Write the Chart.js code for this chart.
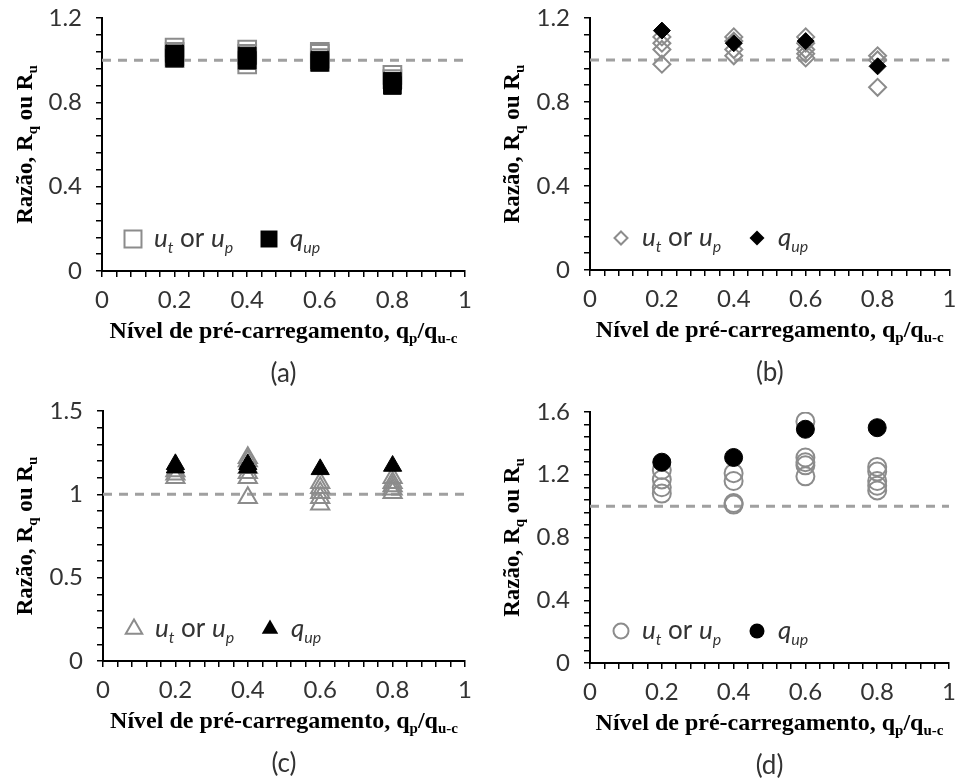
<!DOCTYPE html>
<html><head><meta charset="utf-8">
<script src="https://cdn.jsdelivr.net/npm/chart.js@4.4.1/dist/chart.umd.min.js"></script>
<style>
html,body{margin:0;padding:0;background:#fff}
body{width:960px;height:780px;position:relative;overflow:hidden}
.p{position:absolute;width:480px;height:390px}
canvas{display:block}
</style></head><body>
<div class="p" style="left:0;top:0"><canvas id="ca" width="480" height="390"></canvas></div>
<div class="p" style="left:480px;top:0"><canvas id="cb" width="480" height="390"></canvas></div>
<div class="p" style="left:0;top:390px"><canvas id="cc" width="480" height="390"></canvas></div>
<div class="p" style="left:480px;top:390px"><canvas id="cd" width="480" height="390"></canvas></div>
<script>
// ---------- data ----------
const xTickLabels = [0, 0.2, 0.4, 0.6, 0.8, 1];
const yTicksA = [0, 0.4, 0.8, 1.2];
const yTicksB = [0, 0.4, 0.8, 1.2];
const yTicksC = [0, 0.5, 1, 1.5];
const yTicksD = [0, 0.4, 0.8, 1.2, 1.6];
const refX = [0, 1];
const refY = [1, 1];

// (a) squares
const aOpenX = [0.2,0.2,0.2,0.2, 0.4,0.4,0.4,0.4, 0.6,0.6,0.6,0.6, 0.8,0.8];
const aOpenY = [1.06,1.04,1.02,1.01, 1.05,1.03,1.00,0.98, 1.04,1.03,1.01,0.99, 0.93,0.91];
const aFillX = [0.2,0.2, 0.4,0.4, 0.6,0.6, 0.8,0.8];
const aFillY = [1.03,1.01, 1.02,1.00, 1.00,0.99, 0.90,0.88];

// (b) diamonds
const bOpenX = [0.2,0.2,0.2,0.2, 0.4,0.4,0.4,0.4, 0.6,0.6,0.6,0.6,0.6, 0.8,0.8,0.8];
const bOpenY = [1.11,1.08,1.05,0.98, 1.11,1.09,1.05,1.02, 1.11,1.08,1.05,1.03,1.01, 1.02,1.00,0.87];
const bFillX = [0.2, 0.4, 0.6, 0.8];
const bFillY = [1.14, 1.08, 1.09, 0.97];

// (c) triangles
const cOpenX = [0.2,0.2,0.2, 0.4,0.4,0.4,0.4,0.4,0.4, 0.6,0.6,0.6,0.6,0.6, 0.8,0.8,0.8,0.8,0.8];
const cOpenY = [1.14,1.12,1.10, 1.22,1.20,1.16,1.13,1.10,0.98, 1.07,1.04,1.01,0.98,0.94, 1.10,1.07,1.05,1.03,1.01];
const cFillX = [0.2,0.2, 0.4,0.4, 0.6, 0.8];
const cFillY = [1.18,1.16, 1.18,1.16, 1.15, 1.17];

// (d) circles
const dOpenX = [0.2,0.2,0.2,0.2, 0.4,0.4,0.4,0.4, 0.6,0.6,0.6,0.6,0.6, 0.8,0.8,0.8,0.8,0.8];
const dOpenY = [1.23,1.17,1.12,1.08, 1.21,1.16,1.02,1.01, 1.54,1.31,1.28,1.26,1.19, 1.25,1.22,1.16,1.13,1.10];
const dFillX = [0.2, 0.4, 0.6, 0.8];
const dFillY = [1.28, 1.31, 1.49, 1.50];

// ---------- helpers ----------
const zip = (xs, ys) => xs.map((x, i) => ({x: x, y: ys[i]}));
const isMajor = (v, list) => list.find(m => Math.abs(m - v) < 1e-6);
const fmt = v => String(Math.round(v * 10) / 10);

const SERIF = "'Liberation Serif','Times New Roman',serif";
const SANS = "Lato,'Open Sans',sans-serif";
const TXT = '#333333';

function rich(ctx, segs, x, y, align) {
  let w = 0;
  segs.forEach(s => { ctx.font = s.f; s.w = ctx.measureText(s.t).width; w += s.w; });
  let cx = align === 'center' ? x - w / 2 : x;
  ctx.textAlign = 'left';
  ctx.textBaseline = 'alphabetic';
  segs.forEach(s => { ctx.font = s.f; ctx.fillText(s.t, cx, y + (s.dy || 0)); cx += s.w; });
}

function marker(ctx, style, x, y, r, filled) {
  ctx.save();
  ctx.beginPath();
  if (style === 'rect') {
    const h = r * Math.SQRT1_2;
    ctx.rect(x - h, y - h, 2 * h, 2 * h);
  } else if (style === 'rectRot') {
    ctx.moveTo(x, y - r); ctx.lineTo(x + r, y); ctx.lineTo(x, y + r); ctx.lineTo(x - r, y); ctx.closePath();
  } else if (style === 'triangle') {
    for (let k = 0; k < 3; k++) {
      const a = k * 2 * Math.PI / 3;
      const px = x + Math.sin(a) * r, py = y - Math.cos(a) * r;
      if (k === 0) ctx.moveTo(px, py); else ctx.lineTo(px, py);
    }
    ctx.closePath();
  } else {
    ctx.arc(x, y, r, 0, Math.PI * 2);
  }
  if (filled) { ctx.fillStyle = '#000'; ctx.fill(); }
  else { ctx.strokeStyle = '#8c8c8c'; ctx.lineWidth = 2; ctx.stroke(); }
  ctx.restore();
}

const textPlugin = {
  id: 'texts',
  afterDraw(chart, args, o) {
    const ctx = chart.ctx, a = chart.chartArea;
    ctx.save();
    ctx.fillStyle = '#000';
    // y title
    ctx.save();
    ctx.translate(o.yTitleX, (a.top + a.bottom) / 2);
    ctx.rotate(-Math.PI / 2);
    rich(ctx, [
      {t: 'Razão, R', f: 'bold 23px ' + SERIF},
      {t: 'q', f: 'bold 15px ' + SERIF, dy: 5},
      {t: ' ou R', f: 'bold 23px ' + SERIF},
      {t: 'u', f: 'bold 15px ' + SERIF, dy: 5}
    ], 0, 8, 'center');
    ctx.restore();
    // x title
    const cx = (a.left + a.right) / 2;
    rich(ctx, [
      {t: 'Nível de pré-carregamento, q', f: 'bold 24px ' + SERIF},
      {t: 'p', f: 'bold 15px ' + SERIF, dy: 5},
      {t: '/q', f: 'bold 24px ' + SERIF},
      {t: 'u-c', f: 'bold 15px ' + SERIF, dy: 5}
    ], cx, a.bottom + 67, 'center');
    // caption
    ctx.fillStyle = TXT;
    rich(ctx, [{t: o.caption, f: '26px ' + SANS}], cx, a.bottom + 111, 'center');
    // legend
    const ly = a.bottom - 32;
    marker(ctx, o.style, a.left + 31, ly, o.legR, false);
    marker(ctx, o.style, a.left + 167, ly, o.legR2, true);
    ctx.fillStyle = TXT;
    rich(ctx, [
      {t: 'u', f: 'italic 26px ' + SANS},
      {t: 't', f: 'italic 16px ' + SANS, dy: 6},
      {t: ' or ', f: '26px ' + SANS},
      {t: 'u', f: 'italic 26px ' + SANS},
      {t: 'p', f: 'italic 16px ' + SANS, dy: 6}
    ], a.left + 52, ly + 8, 'left');
    rich(ctx, [
      {t: 'q', f: 'italic 26px ' + SANS},
      {t: 'up', f: 'italic 16px ' + SANS, dy: 6}
    ], a.left + 188, ly + 8, 'left');
    ctx.restore();
  }
};

function makePanel(id, p) {
  const axisCommon = {
    type: 'linear',
    grid: {drawOnChartArea: false, drawTicks: true, tickLength: 6, color: '#000', lineWidth: 1.5},
    border: {display: true, color: '#000', width: 2}
  };
  new Chart(document.getElementById(id), {
    type: 'scatter',
    data: {datasets: [
      {label: 'q_up', data: zip(p.fx, p.fy), pointStyle: p.style, pointRadius: p.r,
       backgroundColor: '#000', borderColor: '#000', borderWidth: 1, order: 0},
      {label: 'u_t or u_p', data: zip(p.ox, p.oy), pointStyle: p.style, pointRadius: p.r,
       backgroundColor: 'rgba(255,255,255,0)', borderColor: '#8c8c8c', borderWidth: 2, order: 1},
      {label: 'ref', data: zip(refX, refY), showLine: true, pointRadius: 0,
       borderColor: '#a0a0a0', borderWidth: 3, borderDash: [9, 7], order: 2}
    ]},
    options: {
      responsive: false, animation: false, events: [],
      layout: {padding: {left: 0, right: 480 - p.right, top: p.top, bottom: 0}},
      plugins: {legend: {display: false}, tooltip: {enabled: false},
        texts: {yTitleX: p.yTitleX, caption: p.caption, style: p.style, legR: p.legR, legR2: p.legR2}},
      scales: {
        x: Object.assign({}, axisCommon, {
          min: 0, max: 1,
          afterFit: s => { s.height = 390 - p.bottom; s.paddingLeft = 0; s.paddingRight = 0; },
          ticks: {stepSize: 0.04, autoSkip: false, maxRotation: 0, color: TXT, padding: 9,
            font: {family: SANS, size: 24},
            callback: v => { const m = isMajor(v, xTickLabels); return m === undefined ? '' : fmt(m); }}
        }),
        y: Object.assign({}, axisCommon, {
          min: 0, max: p.ymax,
          afterFit: s => { s.width = p.left; s.paddingTop = 0; s.paddingBottom = 0; },
          ticks: {stepSize: p.ystep, autoSkip: false, color: TXT, padding: 14,
            font: {family: SANS, size: 24},
            callback: v => { const m = isMajor(v, p.yTicks); return m === undefined ? '' : fmt(m); }}
        })
      }
    },
    plugins: [textPlugin]
  });
}

makePanel('ca', {ox: aOpenX, oy: aOpenY, fx: aFillX, fy: aFillY, style: 'rect', r: 12.5, legR: 12, legR2: 12,
  yTicks: yTicksA, ymax: 1.2, ystep: 0.08, left: 102, right: 465, top: 18, bottom: 271, yTitleX: 24, caption: '(a)'});
makePanel('cb', {ox: bOpenX, oy: bOpenY, fx: bFillX, fy: bFillY, style: 'rectRot', r: 8.5, legR: 6.5, legR2: 7.5,
  yTicks: yTicksB, ymax: 1.2, ystep: 0.08, left: 110, right: 470, top: 18, bottom: 270, yTitleX: 31, caption: '(b)'});
makePanel('cc', {ox: cOpenX, oy: cOpenY, fx: cFillX, fy: cFillY, style: 'triangle', r: 10.5, legR: 9.5, legR2: 9.5,
  yTicks: yTicksC, ymax: 1.5, ystep: 0.1, left: 103, right: 465, top: 21, bottom: 271, yTitleX: 24, caption: '(c)'});
makePanel('cd', {ox: dOpenX, oy: dOpenY, fx: dFillX, fy: dFillY, style: 'circle', r: 9, legR: 7.5, legR2: 7.5,
  yTicks: yTicksD, ymax: 1.6, ystep: 0.08, left: 110, right: 470, top: 22, bottom: 273, yTitleX: 31, caption: '(d)'});
</script>
</body></html>
